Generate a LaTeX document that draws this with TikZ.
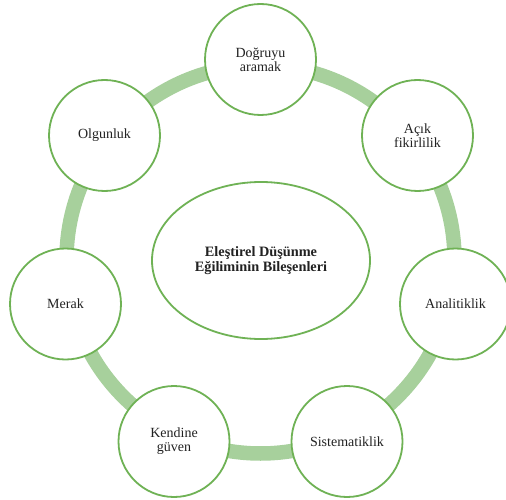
\documentclass[tikz,border=0pt]{standalone}
\usepackage{fontspec}
\setmainfont{Liberation Serif}
\usetikzlibrary{shapes.geometric}
\definecolor{ringgreen}{HTML}{A7D09C}
\definecolor{edgegreen}{HTML}{6FB255}
\definecolor{txt}{HTML}{222222}
\begin{document}
\begin{tikzpicture}[x=1pt,y=-1pt,
  item/.style={circle, draw=edgegreen, line width=1.8pt, fill=white, minimum size=111pt, inner sep=0pt, align=center, text=txt, font=\fontsize{14}{13.8}\selectfont},
  ringstyle/.style={circle, draw=ringgreen, line width=14.5pt, minimum size=388pt, inner sep=0pt},
  core/.style={ellipse, draw=edgegreen, line width=1.8pt, fill=white, minimum width=218pt, minimum height=157pt, inner sep=0pt, align=center, text=txt, font=\bfseries\fontsize{14.3}{14.5}\selectfont}]
\useasboundingbox (0,0) rectangle (506,500);
\node[ringstyle] (ring) at (260.5,259.5) {};
\node[core] (center) at (261,260.5) {Eleştirel Düşünme\\Eğiliminin Bileşenleri};
\node[item] (dogru) at (260.5,59.5) {Doğruyu\\aramak};
\node[item] (acik) at (417.5,135.5) {Açık\\fikirlilik};
\node[item] (olgun) at (104.5,135.5) {Olgunluk};
\node[item] (merak) at (65.5,304) {Merak};
\node[item] (analit) at (455.5,304) {Analitiklik};
\node[item] (kendi) at (174,441.5) {Kendine\\güven};
\node[item] (sistem) at (347,441.5) {Sistematiklik};
\end{tikzpicture}
\end{document}
